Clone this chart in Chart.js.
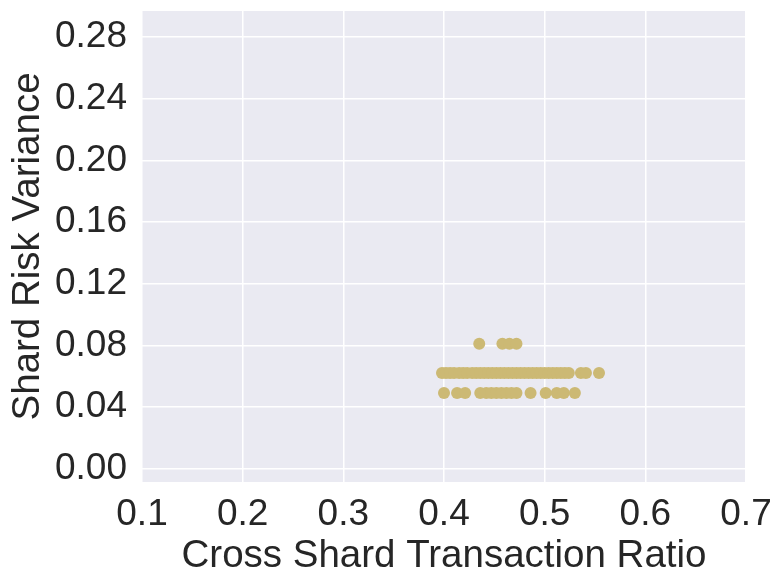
<!DOCTYPE html>
<html>
<head>
<meta charset="utf-8">
<script src="https://cdn.jsdelivr.net/npm/chart.js@4.4.1/dist/chart.umd.min.js"></script>
<style>
    html, body { margin: 0; padding: 0; background: #fff; }
    #wrap { width: 784px; height: 584px; position: relative; }
</style>
</head>
<body>
<div id="wrap"><canvas id="scatter"></canvas></div>
<script>
// values
const topRowX = [0.435, 0.458, 0.465, 0.472];
const topRowY = 0.081;
const midRowX = [0.398, 0.402, 0.406, 0.410, 0.415, 0.419, 0.423, 0.428, 0.432, 0.436,
    0.440, 0.444, 0.448, 0.452, 0.456, 0.460, 0.464, 0.468, 0.472, 0.476, 0.480, 0.484,
    0.488, 0.492, 0.496, 0.500, 0.504, 0.508, 0.512, 0.516, 0.520, 0.524, 0.536, 0.541, 0.554];
const midRowY = 0.062;
const lowRowX = [0.400, 0.413, 0.421, 0.436, 0.442, 0.447, 0.452, 0.457, 0.462, 0.467,
    0.472, 0.486, 0.501, 0.512, 0.519, 0.530];
const lowRowY = 0.049;

const xTicks = [0.1, 0.2, 0.3, 0.4, 0.5, 0.6, 0.7];
const yTicks = [0.00, 0.04, 0.08, 0.12, 0.16, 0.20, 0.24, 0.28];

const points = [
    ...topRowX.map(x => ({ x, y: topRowY })),
    ...midRowX.map(x => ({ x, y: midRowY })),
    ...lowRowX.map(x => ({ x, y: lowRowY })),
];

const textColor = '#262626';
const fontFamily = '"Liberation Sans", Arial, sans-serif';

const plotBackground = {
    id: 'plotBackground',
    beforeDraw(chart) {
        const { ctx, chartArea } = chart;
        ctx.save();
        ctx.fillStyle = '#eaeaf2';
        ctx.fillRect(chartArea.left, chartArea.top,
            chartArea.right - chartArea.left, chartArea.bottom - chartArea.top);
        ctx.restore();
    },
};

new Chart(document.getElementById('scatter'), {
    type: 'scatter',
    data: {
        datasets: [{
            data: points,
            backgroundColor: '#ccb974',
            borderColor: '#ccb974',
            borderWidth: 0,
            pointRadius: 6,
            pointHoverRadius: 6,
        }],
    },
    options: {
        responsive: true,
        maintainAspectRatio: false,
        animation: false,
        layout: { padding: { left: 0, right: 38, top: 11, bottom: 0 } },
        plugins: {
            legend: { display: false },
            tooltip: { enabled: false },
        },
        scales: {
            x: {
                type: 'linear',
                min: 0.1,
                max: 0.7,
                afterBuildTicks: (scale) => {
                    scale.ticks = xTicks.map(v => ({ value: v }));
                },
                afterFit: (scale) => {
                    scale.height = 102;
                    scale.paddingLeft = 0;
                    scale.paddingRight = 0;
                },
                grid: { color: '#ffffff', lineWidth: 1.5, drawTicks: false },
                border: { display: false },
                ticks: {
                    color: textColor,
                    font: { family: fontFamily, size: 37 },
                    padding: 11,
                    maxRotation: 0,
                    callback: (v) => v.toFixed(1),
                },
                title: {
                    display: true,
                    text: 'Cross Shard Transaction Ratio',
                    color: textColor,
                    font: { family: fontFamily, size: 38.5 },
                    padding: { top: 0, bottom: 5 },
                },
            },
            y: {
                type: 'linear',
                min: -0.0087,
                max: 0.297,
                afterBuildTicks: (scale) => {
                    scale.ticks = yTicks.map(v => ({ value: v }));
                },
                afterFit: (scale) => {
                    scale.width = 142;
                    scale.paddingTop = 0;
                    scale.paddingBottom = 0;
                },
                grid: { color: '#ffffff', lineWidth: 1.5, drawTicks: false },
                border: { display: false },
                ticks: {
                    color: textColor,
                    font: { family: fontFamily, size: 37 },
                    padding: 15,
                    callback: (v) => v.toFixed(2),
                },
                title: {
                    display: true,
                    text: 'Shard Risk Variance',
                    color: textColor,
                    font: { family: fontFamily, size: 38.5 },
                    padding: { top: 5, bottom: 0 },
                },
            },
        },
    },
    plugins: [plotBackground],
});
</script>
</body>
</html>
